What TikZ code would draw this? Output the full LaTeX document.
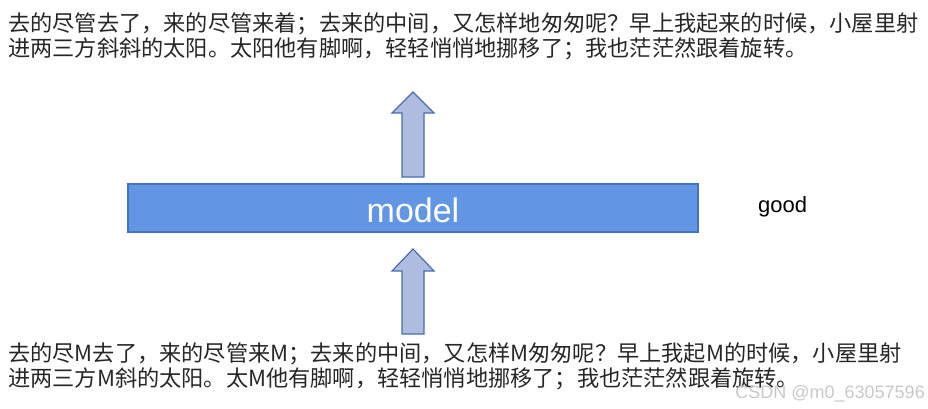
\documentclass[tikz,border=0pt]{standalone}
\usepackage{fontspec}
\setmainfont{Liberation Sans}
\newfontfamily\cjk{Noto Sans CJK SC}
\definecolor{boxfill}{RGB}{98,150,228}
\definecolor{boxline}{RGB}{68,114,196}
\definecolor{arrfill}{RGB}{176,188,223}
\definecolor{arrline}{RGB}{74,108,178}
\definecolor{wmark}{RGB}{200,200,200}
\begin{document}
\begin{tikzpicture}[x=1pt,y=-1pt,
  cjktext/.style={anchor=base west,inner sep=0pt,font=\cjk\fontsize{22.2}{25}\selectfont,text=black!85},
  modelbox/.style={draw=boxline,fill=boxfill,line width=1.5pt,inner sep=0pt,minimum width=570pt,minimum height=48pt},
  blockarrow/.style={draw=arrline,fill=arrfill,line width=1.2pt,line join=miter}]
\useasboundingbox (0,0) rectangle (928,408);
\node[cjktext] (t1) at (8,31) {去的尽管去了，来的尽管来着；去来的中间，又怎样地匆匆呢？早上我起来的时候，小屋里射};
\node[cjktext] (t2) at (8,56) {进两三方斜斜的太阳。太阳他有脚啊，轻轻悄悄地挪移了；我也茫茫然跟着旋转。};
\node[modelbox] (model) at (413,208) {};
\node[anchor=base,inner sep=0pt,text=white,font=\fontsize{34}{40}\selectfont] (mlabel) at (413,222) {model};
\node[anchor=base west,inner sep=0pt,font=\fontsize{22}{26}\selectfont] (good) at (758,212) {good};
% upper block arrow
\draw[blockarrow] (402,177) -- (402,113) -- (392,113) -- (413,92) -- (434,113) -- (424,113) -- (424,177) -- cycle;
% lower block arrow
\draw[blockarrow] (402,334) -- (402,271) -- (392,271) -- (413,249) -- (434,271) -- (424,271) -- (424,334) -- cycle;
\node[cjktext] (b1) at (8,361) {去的尽M去了，来的尽管来M；去来的中间，又怎样M匆匆呢？早上我起M的时候，小屋里射};
\node[cjktext] (b2) at (8,386) {进两三方M斜的太阳。太M他有脚啊，轻轻悄悄地挪移了；我也茫茫然跟着旋转。};
\node[anchor=base east,inner sep=0pt,text=wmark,font=\fontsize{18}{20}\selectfont] (wm) at (925,398) {CSDN @m0\_63057596};
\end{tikzpicture}
\end{document}
